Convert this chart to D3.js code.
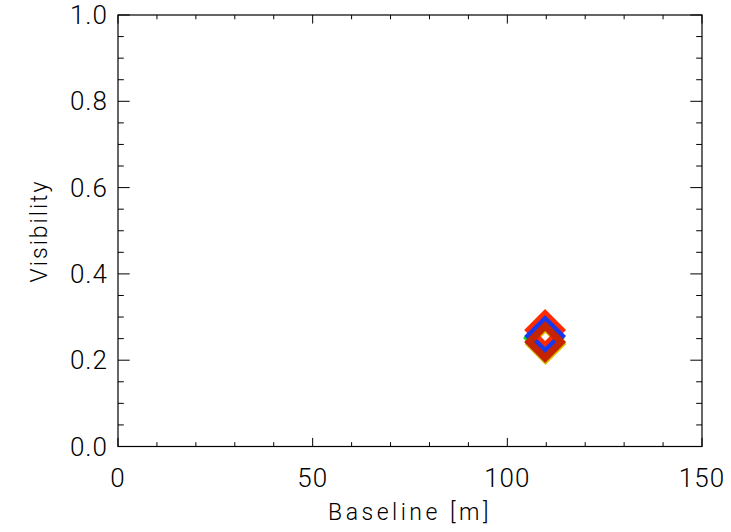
<!DOCTYPE html>
<html><head><meta charset="utf-8">
<script src="https://cdn.jsdelivr.net/npm/d3@7"></script>
<style>body{margin:0;background:#fff}svg text{font-family:Roboto,"DejaVu Sans",sans-serif;font-weight:300;fill:#000}</style>
</head><body>
<svg id="c" width="731" height="532"></svg>
<script>
const xTicks = [0, 50, 100, 150];
const yTicks = [0.0, 0.2, 0.4, 0.6, 0.8, 1.0];
const yTickLabels = ["0.0", "0.2", "0.4", "0.6", "0.8", "1.0"];
const seriesNames = ["yellow", "red", "green", "blue", "darkred"];
const seriesColors = ["#d8c000", "#ff2a00", "#10e010", "#1838f0", "#c42400"];
const baselineValues = [109.8, 109.7, 109.4, 109.7, 109.7];
const visibilityValues = [0.2375, 0.270, 0.2514, 0.2561, 0.2422];

const svg = d3.select("#c");
const L = 118, R = 702, T = 15, B = 446.5;
const x = d3.scaleLinear().domain([0, 150]).range([L, R]);
const y = d3.scaleLinear().domain([0, 1]).range([B, T]);

const g = svg.append("g");
g.append("rect").attr("x", L).attr("y", T).attr("width", R - L).attr("height", B - T)
  .attr("fill", "none").attr("stroke", "#000").attr("stroke-width", 1.2);

const xMinor = d3.range(0, 151, 10);
const yMinor = d3.range(0, 1.0001, 0.05);
const xMajLen = 8.6, xMinLen = 4.3, yMajLen = 11.7, yMinLen = 5.8;
xMinor.forEach(v => {
  const len = (v % 50 === 0) ? xMajLen : xMinLen;
  g.append("line").attr("x1", x(v)).attr("x2", x(v)).attr("y1", B).attr("y2", B - len).attr("stroke", "#000");
  g.append("line").attr("x1", x(v)).attr("x2", x(v)).attr("y1", T).attr("y2", T + len).attr("stroke", "#000");
});
yMinor.forEach(v => {
  const isMaj = Math.abs(Math.round(v * 5) - v * 5) < 1e-6;
  const len = isMaj ? yMajLen : yMinLen;
  g.append("line").attr("y1", y(v)).attr("y2", y(v)).attr("x1", L).attr("x2", L + len).attr("stroke", "#000");
  g.append("line").attr("y1", y(v)).attr("y2", y(v)).attr("x1", R).attr("x2", R - len).attr("stroke", "#000");
});

xTicks.forEach(v => {
  g.append("text").attr("x", x(v)).attr("y", 487).attr("text-anchor", "middle")
    .attr("font-size", 26).attr("letter-spacing", 1).text(String(v));
});
yTicks.forEach((v, i) => {
  g.append("text").attr("x", 108).attr("y", y(v) + 9).attr("text-anchor", "end")
    .attr("font-size", 26).attr("letter-spacing", 1).text(yTickLabels[i]);
});

g.append("text").attr("x", 410).attr("y", 520).attr("text-anchor", "middle")
  .attr("font-size", 23).attr("letter-spacing", 3.5).text("Baseline [m]");
g.append("text").attr("transform", "translate(47,231) rotate(-90)").attr("text-anchor", "middle")
  .attr("font-size", 23).attr("letter-spacing", 2).text("Visibility");

const h = 16;
const diamond = (cx, cy) => `M${cx},${cy - h}L${cx + h},${cy}L${cx},${cy + h}L${cx - h},${cy}Z`;
seriesNames.forEach((n, i) => {
  g.append("path").attr("d", diamond(x(baselineValues[i]), y(visibilityValues[i])))
    .attr("fill", "none").attr("stroke", seriesColors[i]).attr("stroke-width", 7)
    .attr("stroke-linejoin", "miter").attr("stroke-miterlimit", 10);
});
</script>
</body></html>
